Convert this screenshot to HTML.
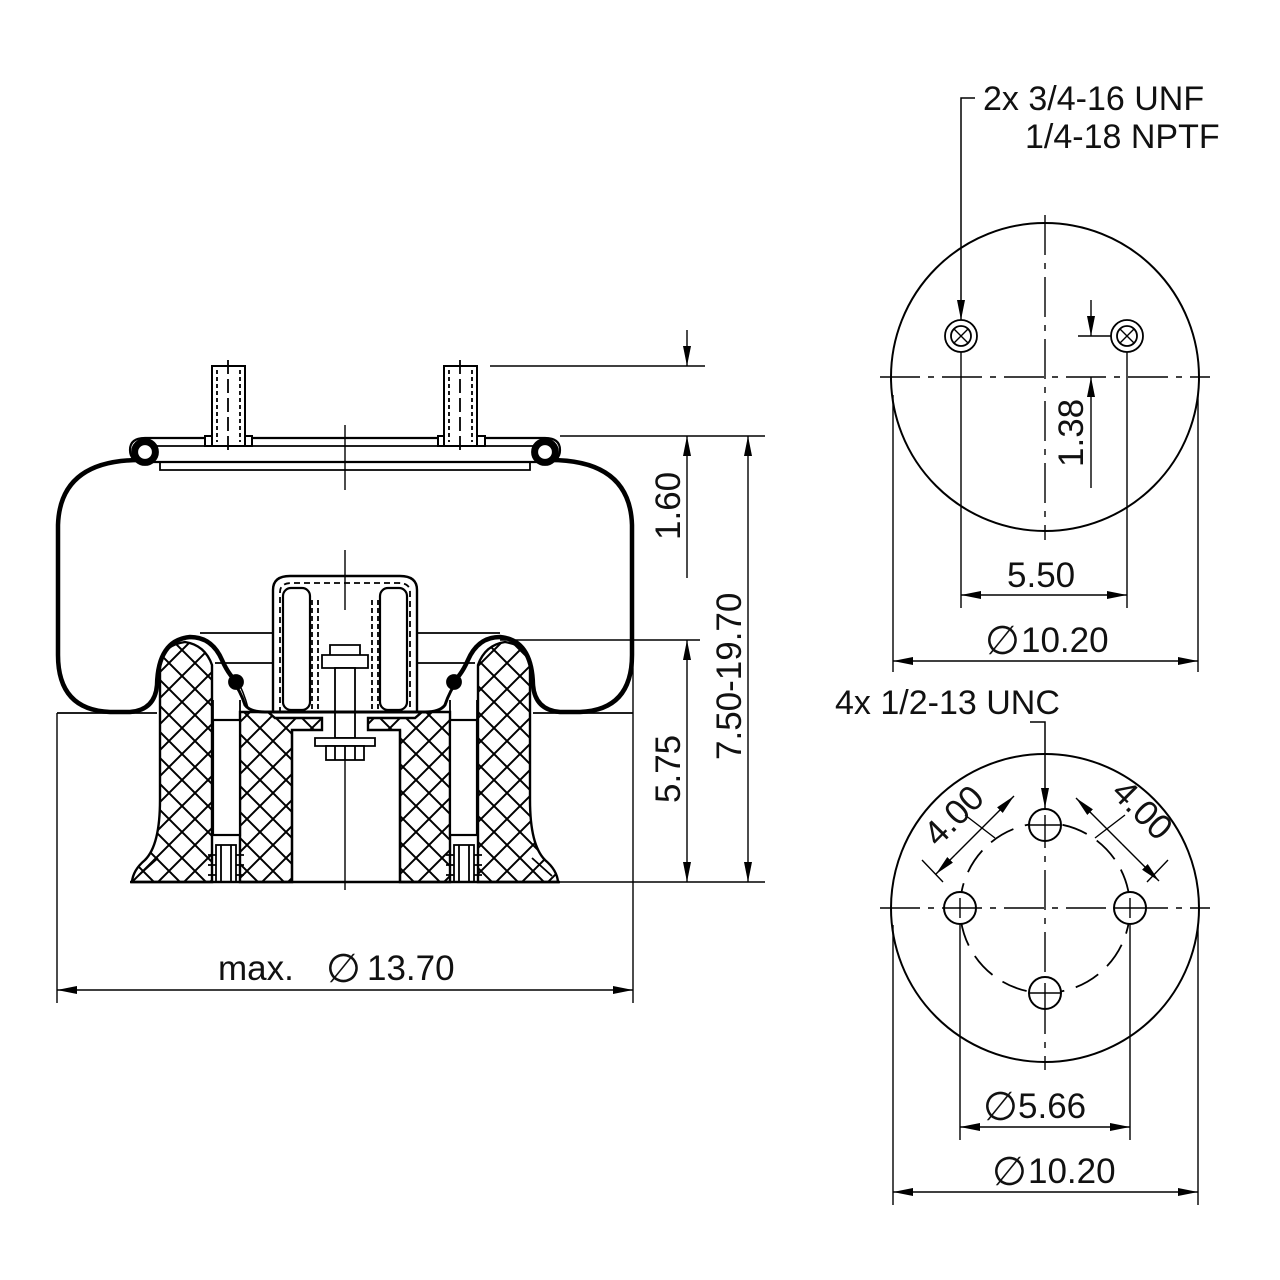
<!DOCTYPE html>
<html><head><meta charset="utf-8"><style>
html,body{margin:0;padding:0;background:#fff;}
svg{display:block;}
text{font-family:"Liberation Sans",sans-serif;fill:#111;}
</style></head><body>
<svg width="1280" height="1280" viewBox="0 0 1280 1280" xmlns="http://www.w3.org/2000/svg">
<defs>
<marker id="a" viewBox="0 0 20 8" refX="20" refY="4" markerWidth="20" markerHeight="8" markerUnits="userSpaceOnUse" orient="auto">
<path d="M0,0 L20,4 L0,8 Z" fill="#000"/></marker>
<pattern id="h" x="0" y="0" width="26" height="26" patternUnits="userSpaceOnUse">
<rect width="26" height="26" fill="#fff"/>
<path d="M-2,-2 L28,28 M28,-2 L-2,28" stroke="#000" stroke-width="2"/></pattern>
</defs>
<g stroke="#000" fill="none" stroke-width="1.8">

<path d="M160,660 Q165,645 185,642 Q205,645 212,665 L212,882 L132,882 Q133,870 145,860 Q160,845 160,800 Z" fill="url(#h)" stroke-width="2.4"/>
<path d="M530,660 Q525,645 505,642 Q485,645 478,665 L478,882 L558,882 Q557,870 545,860 Q530,845 530,800 Z" fill="url(#h)" stroke-width="2.4"/>
<path d="M240,712 L268,712 L275,718 L322,718 L322,730 L292,730 L292,882 L240,882 Z" fill="url(#h)" stroke-width="2.4"/>
<path d="M450,712 L422,712 L415,718 L368,718 L368,730 L400,730 L400,882 L450,882 Z" fill="url(#h)" stroke-width="2.4"/>
<path d="M138,876 L158,858 M552,876 L532,858"/>
<rect x="213" y="720" width="27" height="115" fill="#fff" stroke-width="2.2"/>
<rect x="450" y="720" width="27" height="115" fill="#fff" stroke-width="2.2"/>
<path d="M213,700 V720 M240,700 V720 M450,700 V720 M477,700 V720"/>
<g fill="#fff"><rect x="216" y="845" width="20" height="37"/><rect x="454" y="845" width="20" height="37"/></g>
<path d="M221,845 V882 M231,845 V882 M459,845 V882 M469,845 V882 M208,855 h8 M208,865 h8 M208,875 h8 M236,855 h8 M236,865 h8 M236,875 h8 M446,855 h8 M446,865 h8 M446,875 h8 M474,855 h8 M474,865 h8 M474,875 h8"/>
<path d="M130,882 H560" stroke-width="2.5"/>
<path d="M292,730 V882 M400,730 V882" stroke-width="2.2"/>
<path d="M273,713 V590 Q273,576 290,576 H400 Q417,576 417,590 V713" stroke-width="2.4"/>
<path d="M280,713 V592 Q280,583 292,583 H398 Q410,583 410,592 V713" stroke-dasharray="6 4"/>
<rect x="283" y="588" width="27" height="122" rx="8" stroke-width="2.2"/>
<rect x="380" y="588" width="27" height="122" rx="8" stroke-width="2.2"/>
<path d="M312,600 V712 M318,600 V712 M372,600 V712 M378,600 V712" stroke-dasharray="5 3"/>
<path d="M322,655 H368 V668 H322 Z M330,645 H360 V655 H330 Z" fill="#fff"/>
<rect x="335" y="668" width="20" height="70" fill="#fff"/>
<path d="M315,738 H375 V746 H315 Z" fill="#fff"/>
<rect x="326" y="746" width="38" height="14" fill="#fff"/>
<path d="M335,746 V760 M345,746 V760 M355,746 V760"/>
<path d="M232,680 Q240,690 245,705 Q250,712 265,712 H425 Q440,712 445,705 Q450,690 458,680" stroke-width="3"/>
<path d="M236,678 Q244,692 248,708" stroke-width="1.5"/>
<path d="M200,633 H273 M417,633 H500 M215,663 H273 M417,663 H475 M57,713 H157 M533,713 H633"/>
<path d="M140,460 Q60,460 58,525 V655 Q58,710 110,712 H130 Q155,710 157,685 Q158,640 190,637 Q212,637 222,660 Q230,678 240,684" stroke-width="4.5"/>
<path d="M550,460 Q630,460 632,525 V655 Q632,710 580,712 H560 Q535,710 533,685 Q532,640 500,637 Q478,637 468,660 Q460,678 450,684" stroke-width="4.5"/>
<circle cx="236" cy="682" r="7" fill="#000"/><circle cx="454" cy="682" r="7" fill="#000"/>
<path d="M145,438 H545 Q560,438 560,450 Q560,462 545,462 H145 Q130,462 130,450 Q130,438 145,438 Z" stroke-width="2.2"/>
<path d="M150,446 H540 M160,462 V470 H530 V462"/>
<circle cx="145" cy="452" r="13" fill="#000"/><circle cx="145" cy="452" r="6" fill="#fff" stroke="#fff"/>
<circle cx="545" cy="452" r="13" fill="#000"/><circle cx="545" cy="452" r="6" fill="#fff" stroke="#fff"/>
<g fill="#fff" stroke-width="2">
<rect x="205" y="436" width="47" height="10"/><rect x="212" y="366" width="33" height="80"/>
<rect x="438" y="436" width="47" height="10"/><rect x="444" y="366" width="33" height="80"/>
</g>
<path d="M217,370 V442 M240,370 V442 M449,370 V442 M472,370 V442" stroke-dasharray="4 3"/>
<path d="M228,360 V455 M460,360 V455" stroke-dasharray="14 5"/>
<path d="M345,425 V490 M345,550 V610 M345,760 V890" stroke-width="1.4"/>

<path d="M490,366 H705 M560,436 H765 M500,640 H700 M560,882 H765" stroke-width="1.4"/>
<path d="M687,330 V366" marker-end="url(#a)" stroke-width="1.4"/>
<path d="M687,578 V436" marker-end="url(#a)" stroke-width="1.4"/>
<path d="M687,760 V640" marker-end="url(#a)" stroke-width="1.4"/>
<path d="M687,760 V882" marker-end="url(#a)" stroke-width="1.4"/>
<path d="M748,660 V436" marker-end="url(#a)" stroke-width="1.4"/>
<path d="M748,660 V882" marker-end="url(#a)" stroke-width="1.4"/>
<path d="M57,713 V1003 M633,660 V1003" stroke-width="1.4"/>
<path d="M345,990 H57" marker-end="url(#a)" stroke-width="1.4"/>
<path d="M345,990 H633" marker-end="url(#a)" stroke-width="1.4"/>

<circle cx="1045" cy="377" r="154" stroke-width="2"/>
<path d="M880,377 H1210" stroke-dasharray="40 8 6 8" stroke-width="1.4"/>
<path d="M1045,215 V540" stroke-dasharray="40 8 6 8" stroke-width="1.4"/>
<circle cx="961" cy="336" r="16"/><circle cx="961" cy="336" r="10"/>
<path d="M954,329 l14,14 M968,329 l-14,14" stroke-width="1.4"/>
<circle cx="1127" cy="336" r="16"/><circle cx="1127" cy="336" r="10"/>
<path d="M1120,329 l14,14 M1134,329 l-14,14" stroke-width="1.4"/>
<path d="M975,98 H961 V320" marker-end="url(#a)" stroke-width="1.5"/>
<path d="M1091,300 V336" marker-end="url(#a)" stroke-width="1.4"/>
<path d="M1091,488 V377" marker-end="url(#a)" stroke-width="1.4"/>
<path d="M1078,336 H1111" stroke-width="1.4"/>
<path d="M961,352 V608 M1127,352 V608 M893,395 V672 M1198,395 V672" stroke-width="1.4"/>
<path d="M1044,595 H961" marker-end="url(#a)" stroke-width="1.4"/>
<path d="M1044,595 H1127" marker-end="url(#a)" stroke-width="1.4"/>
<path d="M1045,661 H893" marker-end="url(#a)" stroke-width="1.4"/>
<path d="M1045,661 H1198" marker-end="url(#a)" stroke-width="1.4"/>

<circle cx="1045" cy="908" r="154" stroke-width="2"/>
<path d="M880,908 H1210" stroke-dasharray="40 8 6 8" stroke-width="1.4"/>
<path d="M1045,808 V1070" stroke-dasharray="40 8 6 8" stroke-width="1.4"/>
<circle cx="1045" cy="908" r="85" stroke-dasharray="26 12" stroke-width="1.8"/>
<g fill="#fff" stroke-width="2">
<circle cx="1045" cy="825" r="16"/><circle cx="960" cy="908" r="16"/><circle cx="1130" cy="908" r="16"/><circle cx="1045" cy="993" r="16"/>
</g>
<path d="M1029,825 H1061 M1045,815 V841 M944,908 H976 M960,898 V918 M1114,908 H1146 M1130,898 V918 M1029,993 H1061 M1045,983 V1009" stroke-width="1.4"/>
<path d="M1030,722 H1045 V808" marker-end="url(#a)" stroke-width="1.5"/>
<path d="M965,815 L995,838 M1125,815 L1095,838 M943,882 L922,860 M1147,882 L1168,860" stroke-width="1.4"/>
<path d="M955,855 L1014,796" marker-end="url(#a)" stroke-width="1.4"/>
<path d="M955,855 L936,874" marker-end="url(#a)" stroke-width="1.4"/>
<path d="M1122,844 L1076,798" marker-end="url(#a)" stroke-width="1.4"/>
<path d="M1122,844 L1159,881" marker-end="url(#a)" stroke-width="1.4"/>
<path d="M960,925 V1140 M1130,925 V1140 M893,925 V1205 M1198,925 V1205" stroke-width="1.4"/>
<path d="M1045,1127 H960" marker-end="url(#a)" stroke-width="1.4"/>
<path d="M1045,1127 H1130" marker-end="url(#a)" stroke-width="1.4"/>
<path d="M1045,1192 H893" marker-end="url(#a)" stroke-width="1.4"/>
<path d="M1045,1192 H1198" marker-end="url(#a)" stroke-width="1.4"/>
</g>

<g font-size="35">
<text x="218" y="980">max.</text>
<text x="326" y="982" font-size="40">∅</text>
<text x="367" y="980">13.70</text>
<text transform="translate(680,540) rotate(-90)">1.60</text>
<text transform="translate(680,803) rotate(-90)">5.75</text>
<text transform="translate(741,760) rotate(-90)">7.50-19.70</text>
<text x="983" y="110" font-size="34">2x 3/4-16 UNF</text>
<text x="1025" y="148" font-size="34">1/4-18 NPTF</text>
<text transform="translate(1083,467) rotate(-90)">1.38</text>
<text x="1007" y="587">5.50</text>
<text x="985" y="654" font-size="40">∅</text>
<text x="1021" y="652">10.20</text>
<text x="835" y="714" font-size="34">4x 1/2-13 UNC</text>
<text transform="translate(938,848) rotate(-45)">4.00</text>
<text transform="translate(1110,794) rotate(45)">4.00</text>
<text x="983" y="1120" font-size="40">∅</text>
<text x="1018" y="1118">5.66</text>
<text x="992" y="1185" font-size="40">∅</text>
<text x="1028" y="1183">10.20</text>
</g>
</svg>
</body></html>
